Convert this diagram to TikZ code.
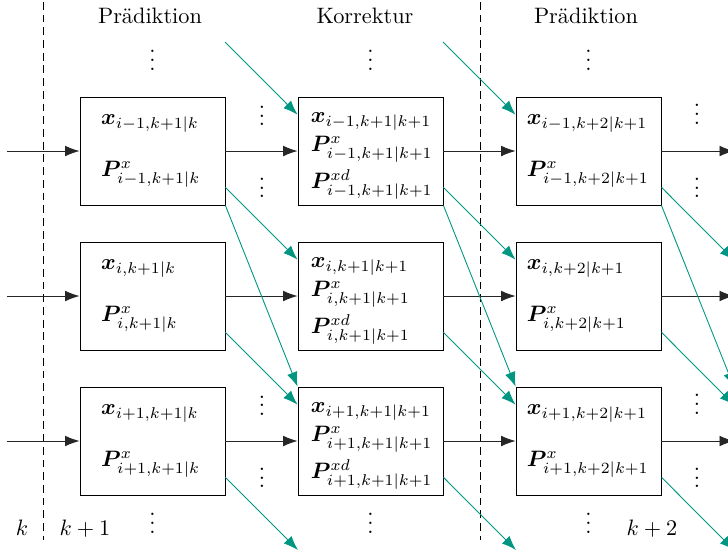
\documentclass[tikz,border=0pt]{standalone}
\usepackage{amsmath}
\usepackage{bm}
\usetikzlibrary{arrows.meta,calc}

\definecolor{tealarrow}{RGB}{0,150,130}

\tikzset{
  statebox/.style={draw, minimum width=2.285cm, minimum height=1.702cm, text width=#1, align=left, inner sep=0pt},
  statebox/.default=1.62cm,
  flow/.style={-{Latex[length=6.5pt,width=4.8pt]}, black!85},
  share/.style={-{Latex[length=6.5pt,width=4.8pt]}, tealarrow},
  dotsnode/.style={inner sep=0pt},
  timestep/.style={dash pattern=on 3.5pt off 2.2pt},
}

\begin{document}
\begin{tikzpicture}[x=1cm, y=1cm]
  \useasboundingbox (0,0) rectangle (11.473,-8.715);
  % time steps
  \draw[timestep] (0.678,-0.03) -- (0.678,-8.51);
  \draw[timestep] (7.565,-0.03) -- (7.565,-8.51);
  \node[anchor=base] (kold) at (0.347,-8.432) {$k$};
  \node[anchor=base] (know) at (1.340,-8.432) {$k+1$};
  \node[anchor=base] (knext) at (10.276,-8.432) {$k+2$};
  % headers
  \node[anchor=base] (hpred1) at (2.364,-0.378) {Prädiktion};
  \node[anchor=base] (hkorr) at (5.752,-0.378) {Korrektur};
  \node[anchor=base] (hpred2) at (9.235,-0.378) {Prädiktion};
  \foreach \x/\n in {2.403/1, 5.839/2, 9.275/3} {
    \node[dotsnode] (vtop\n) at (\x,-0.850) {$\vdots$};
    \node[dotsnode] (vbot\n) at (\x,-8.137) {$\vdots$};
  }
  % filter states
  \foreach \r/\i/\y in {1/i-1/-2.380, 2/i/-4.665, 3/i+1/-6.950} {
    \node[statebox] (pa\r) at (2.403,\y) {$\bm{x}_{\i,k+1|k}$\\[11.3pt]$\bm{P}^x_{\i,k+1|k}$};
    \node[statebox=1.88cm] (ko\r) at (5.839,\y) {\rule{0pt}{8.9pt}$\bm{x}_{\i,k+1|k+1}$\\[1pt]$\bm{P}^x_{\i,k+1|k+1}$\\[2pt]$\bm{P}^{xd}_{\i,k+1|k+1}$};
    \node[statebox=1.94cm] (pb\r) at (9.275,\y) {$\bm{x}_{\i,k+2|k+1}$\\[11.3pt]$\bm{P}^x_{\i,k+2|k+1}$};
    \coordinate (in\r) at (0.110,\y);
    \coordinate (out\r) at (11.568,\y);
    \draw[flow] (in\r) -- (pa\r);
    \draw[flow] (pa\r) -- (ko\r);
    \draw[flow] (ko\r) -- (pb\r);
    \draw[flow] (pb\r) -- (out\r);
  }
  % more subsystems
  \foreach \y/\n in {-2.380/1, -6.950/3} {
    \node[dotsnode] (vla\n) at (4.129,\y+0.660) {$\vdots$};
    \node[dotsnode] (vlb\n) at (4.129,\y-0.475) {$\vdots$};
    \node[dotsnode] (vra\n) at (10.985,\y+0.690) {$\vdots$};
    \node[dotsnode] (vrb\n) at (10.985,\y-0.475) {$\vdots$};
  }
  % exchange with neighbours
  \coordinate (top1) at (3.546,-0.662);
  \coordinate (top2) at (6.982,-0.662);
  \coordinate (bot1) at (4.696,-8.668);
  \coordinate (bot2) at (8.132,-8.668);
  \coordinate (nb2) at (11.568,-4.098);
  \coordinate (nb3a) at (11.568,-6.099);
  \coordinate (nb3b) at (11.568,-6.383);
  \coordinate (nb4) at (11.568,-8.668);
  \draw[share] (top1) -- ($(ko1.west)!0.667!(ko1.north west)$);
  \draw[share] (top2) -- ($(pb1.west)!0.667!(pb1.north west)$);
  \foreach \a/\b in {pa/ko, ko/pb} {
    \draw[share] ($(\a1.east)!0.667!(\a1.south east)$) -- ($(\b2.west)!0.667!(\b2.north west)$);
    \draw[share] (\a1.south east) -- (\b3.north west);
    \draw[share] ($(\a2.east)!0.667!(\a2.south east)$) -- ($(\b3.west)!0.667!(\b3.north west)$);
  }
  \draw[share] ($(pa3.east)!0.667!(pa3.south east)$) -- (bot1);
  \draw[share] ($(ko3.east)!0.667!(ko3.south east)$) -- (bot2);
  \draw[share] ($(pb1.east)!0.667!(pb1.south east)$) -- (nb2);
  \draw[share] (pb1.south east) -- (nb3a);
  \draw[share] ($(pb2.east)!0.667!(pb2.south east)$) -- (nb3b);
  \draw[share] ($(pb3.east)!0.667!(pb3.south east)$) -- (nb4);
\end{tikzpicture}
\end{document}
